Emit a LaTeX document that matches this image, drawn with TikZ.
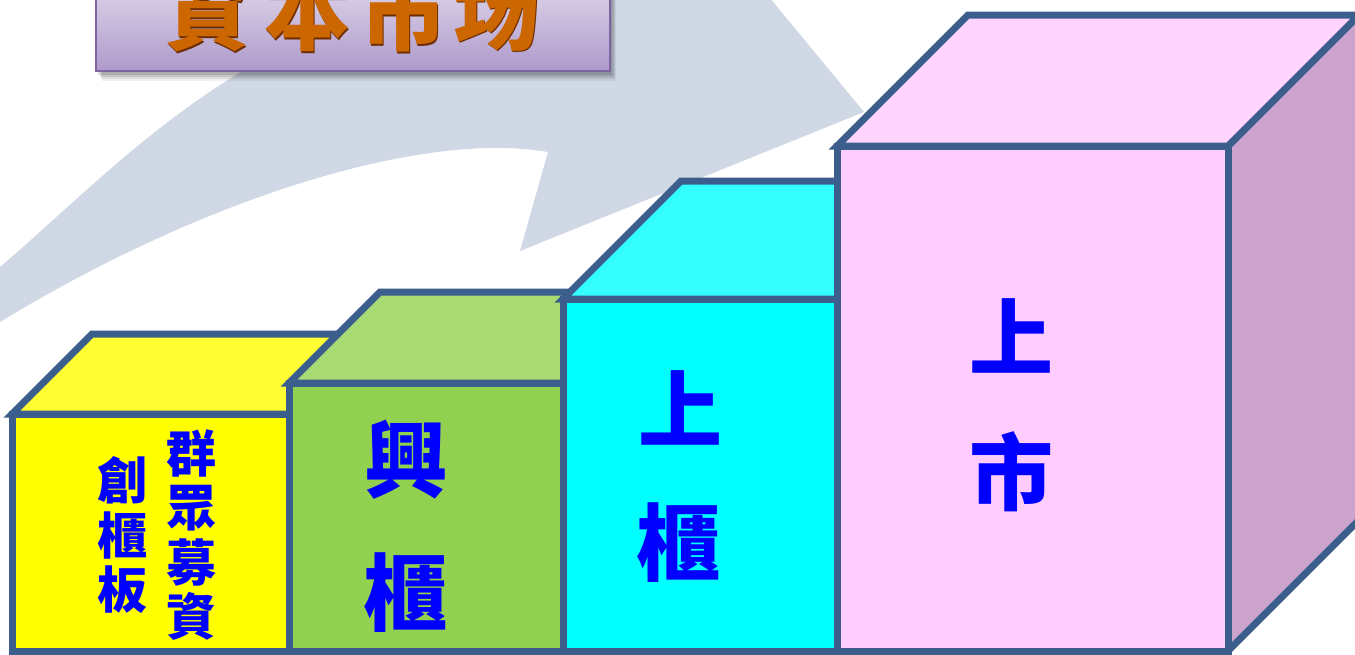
\documentclass[tikz,border=0pt]{standalone}
\usepackage{fontspec}
\newfontfamily\cjk{Noto Sans CJK TC}
\definecolor{edge}{RGB}{59,94,140}
\definecolor{arrowgrey}{RGB}{208,216,230}
\definecolor{boxedge}{RGB}{128,100,162}
\definecolor{boxtop}{RGB}{222,214,234}
\definecolor{boxbot}{RGB}{174,154,203}
\definecolor{titleor}{RGB}{204,102,0}
\definecolor{titledk}{RGB}{110,45,0}
\definecolor{yfront}{RGB}{255,255,0}
\definecolor{ytop}{RGB}{255,255,51}
\definecolor{gfront}{RGB}{146,208,80}
\definecolor{gtop}{RGB}{169,218,116}
\definecolor{cfront}{RGB}{0,255,255}
\definecolor{ctop}{RGB}{51,255,255}
\definecolor{pfront}{RGB}{255,204,255}
\definecolor{ptop}{RGB}{255,213,255}
\definecolor{pside}{RGB}{204,163,204}
\definecolor{txtblue}{RGB}{0,0,255}
% #1 x left, #2 y top, #3 x right, #4 y bottom, #5 depth, #6 front, #7 top, #8 side
\newcommand\mycube[8]{%
  \draw[face,fill=#8] (#3,#2) -- (#3+#5,#2-#5) -- (#3+#5,#4-#5) -- (#3,#4) -- cycle;
  \draw[face,fill=#7] (#1,#2) -- (#1+#5,#2-#5) -- (#3+#5,#2-#5) -- (#3,#2) -- cycle;
  \draw[face,fill=#6] (#1,#2) rectangle (#3,#4);
}
\begin{document}
\begin{tikzpicture}[x=1pt,y=-1pt,
  face/.style={draw=edge,line width=7pt,line join=miter},
  bigtxt/.style={font=\cjk\bfseries\fontsize{84}{84}\selectfont,text=txtblue,inner sep=0pt},
  smalltxt/.style={font=\cjk\bfseries\fontsize{50}{54.5}\selectfont,text=txtblue,inner sep=0pt,align=center},
  ttl/.style={font=\cjk\bfseries\fontsize{86}{86}\selectfont,inner sep=0pt}]
\clip (0,0) rectangle (1355,654);
\fill[white] (0,0) rectangle (1355,654);
% background curved arrow
\fill[arrowgrey] (-10,267) -- (0,267) .. controls (160,130) and (280,-30) .. (722,-60)
  -- (864,112) -- (520,251) -- (548,152)
  .. controls (420,130) and (200,200) .. (0,322) -- (-10,322) -- cycle;
% title box shadow
\foreach \o/\a in {10/0.06,8/0.08,6/0.10,4/0.12} {
  \fill[black,opacity=\a] (96+\o*0.6,-20) rectangle (610+\o*0.6,71+\o);
}
\path[draw=boxedge,line width=2pt,top color=boxtop,bottom color=boxbot] (96,-20) rectangle (610,71);
% title text
\foreach \c/\xx [count=\i] in {資/207,本/307,市/403,场/496} {
  \node[ttl,text=titledk] at (\xx+1.5,12.5) {\c};
  \node[ttl,text=titleor] (t\i) at (\xx,11) {\c};
}
% cubes
\mycube{12}{414}{289}{651}{80}{yfront}{ytop}{ytop}
\mycube{289}{383}{563}{651}{91}{gfront}{gtop}{gtop}
\mycube{563}{299}{837}{651}{118}{cfront}{ctop}{ctop}
\mycube{837}{146}{1228}{651}{131}{pfront}{ptop}{pside}
% texts
\node[smalltxt] (crowd) at (191,535) {群\\眾\\募\\資};
\node[smalltxt] (board) at (122,535) {創\\櫃\\板};
\node[bigtxt] (x1) at (406,460) {興};
\node[bigtxt] (x2) at (405,593) {櫃};
\node[bigtxt] (s1) at (680,408) {上};
\node[bigtxt] (s2) at (678,543) {櫃};
\node[bigtxt] (m1) at (1011,336) {上};
\node[bigtxt] (m2) at (1011,472) {市};
\end{tikzpicture}
\end{document}
